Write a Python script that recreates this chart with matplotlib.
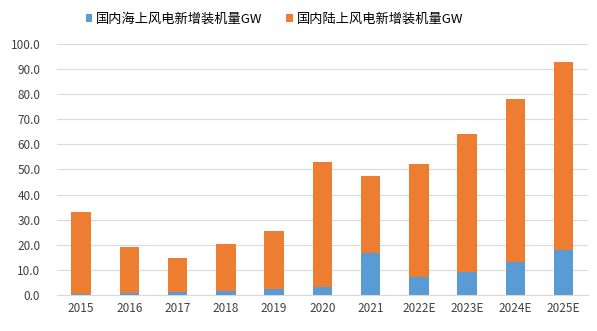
import matplotlib
matplotlib.use("Agg")
import matplotlib.pyplot as plt
import numpy as np

plt.rcParams["font.family"] = ["Noto Sans CJK SC", "DejaVu Sans"]

# 年份与装机数据（GW）
years = ["2015", "2016", "2017", "2018", "2019", "2020", "2021",
         "2022E", "2023E", "2024E", "2025E"]
offshore = [0.4, 0.6, 1.2, 1.7, 2.5, 3.1, 16.9, 7.0, 9.0, 13.0, 18.0]
onshore = [32.6, 18.6, 13.6, 18.7, 23.1, 50.0, 30.6, 45.0, 55.0, 65.0, 75.0]

BLUE = "#5B9BD5"
ORANGE = "#ED7D31"
GRID = "#D9D9D9"

fig = plt.figure(figsize=(5.97, 3.31), dpi=100)
ax = fig.add_axes([0.0955, 0.109, 0.889, 0.758])

x = np.arange(len(years))
ax.bar(x, offshore, width=0.4, color=BLUE, label="国内海上风电新增装机量GW", zorder=3)
ax.bar(x, onshore, width=0.4, bottom=offshore, color=ORANGE,
       label="国内陆上风电新增装机量GW", zorder=3)

ax.set_xlim(-0.5, len(years) - 0.5)
ax.set_ylim(0, 100)
ax.set_yticks(np.arange(0, 101, 10))
ax.set_yticklabels([f"{v:.1f}" for v in np.arange(0, 101, 10)], fontsize=8.5, color="#404040")
ax.set_xticks(x)
ax.set_xticklabels(years, fontsize=8.5, color="#404040")
ax.tick_params(axis="y", length=0, pad=12)
ax.tick_params(axis="x", length=0, pad=5)
ax.yaxis.grid(True, color=GRID, linewidth=0.8, zorder=0)
for s in ["top", "right", "left"]:
    ax.spines[s].set_visible(False)
ax.spines["bottom"].set_color(GRID)

ax.legend(loc="lower center", bbox_to_anchor=(0.41, 1.025), ncol=2, frameon=False,
          fontsize=9.5, handlelength=0.5, handleheight=0.5, handletextpad=0.3,
          columnspacing=1.8)

fig.savefig("out.png", dpi=100)
